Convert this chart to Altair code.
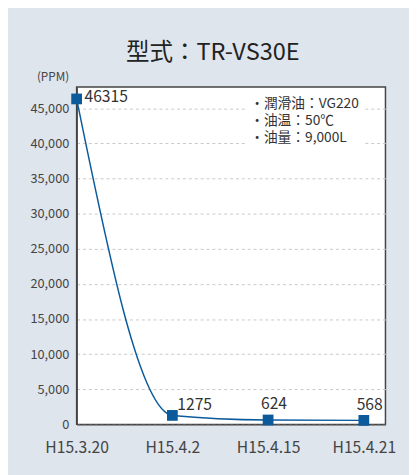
import altair as alt
import pandas as pd

dates = ["H15.3.20", "H15.4.2", "H15.4.15", "H15.4.21"]
ppm = [46315, 1275, 624, 568]
info_lines = ["・潤滑油：VG220", "・油温：50℃", "・油量：9,000L"]

FONT = "Noto Sans CJK JP"
BLUE = "#0b5a9b"

df = pd.DataFrame({"idx": list(range(len(dates))), "date": dates, "ppm": ppm,
                   "label": [str(v) for v in ppm]})

label_expr = "[" + ",".join("'" + d + "'" for d in dates) + "][datum.value]"

x = alt.X("idx:Q", scale=alt.Scale(domain=[0, 3.226], nice=False, zero=False),
          axis=alt.Axis(values=[0, 1, 2, 3], labelExpr=label_expr, grid=False,
                        ticks=False, labelFontSize=16, labelPadding=16,
                        labelColor="#444", labelFont=FONT, domainColor="#444",
                        domainWidth=1.5, title=None, labelFlush=False))
y = alt.Y("ppm:Q", scale=alt.Scale(domain=[0, 48000], nice=False),
          axis=alt.Axis(values=list(range(0, 50000, 5000)),
                        labelExpr="format(datum.value, ',.0f')",
                        gridDash=[3, 3], gridColor="#c8c8c8", ticks=False,
                        labelFontSize=13, labelColor="#444", labelFont=FONT,
                        labelPadding=8, domainColor="#444", domainWidth=1.5,
                        title="(PPM)", titleAngle=0, titleX=-8, titleY=-11,
                        titleAlign="right", titleBaseline="middle",
                        titleFontSize=12, titleFontWeight="normal",
                        titleColor="#444", titleFont=FONT))

base = alt.Chart(df)
line = base.mark_line(interpolate="monotone", color=BLUE, strokeWidth=1.5).encode(x=x, y=y)
pts = base.mark_square(size=120, color=BLUE, opacity=1).encode(x=x, y=y)

lbl_first = base.transform_filter("datum.idx == 0").mark_text(
    align="left", baseline="middle", dx=8, dy=-2, fontSize=16, font=FONT, color="#333"
).encode(x=x, y=y, text="label:N")
lbl_second = base.transform_filter("datum.idx == 1").mark_text(
    align="left", baseline="bottom", dx=5, dy=-3, fontSize=16, font=FONT, color="#333"
).encode(x=x, y=y, text="label:N")
lbl_rest = base.transform_filter("datum.idx >= 2").mark_text(
    align="center", baseline="bottom", dx=6, dy=-8, fontSize=16, font=FONT, color="#333"
).encode(x=x, y=y, text="label:N")

box = base.transform_filter("datum.idx == 0").mark_rect(color="white").encode(
    x=alt.value(172), x2=alt.value(294), y=alt.value(13), y2=alt.value(63))
info = base.transform_filter("datum.idx == 0").mark_text(
    align="left", baseline="top", fontSize=14, font=FONT, color="#333",
    text=info_lines, lineHeight=17.5
).encode(x=alt.value(177), y=alt.value(10))

chart = alt.layer(line, box, info, pts, lbl_first, lbl_second, lbl_rest).properties(
    width=315, height=344,
    title=alt.TitleParams("型式：TR-VS30E", fontSize=24, font=FONT, fontWeight="normal",
                          color="#222", anchor="middle", frame="bounds", offset=6),
    padding={"left": 70, "top": 76, "right": 24, "bottom": 49},
    autosize=alt.AutoSizeParams(type="none"),
    background="#dee5ed",
).configure_view(stroke="#444", strokeWidth=1.5, fill="white")

chart.save("out.html", embed_options={"renderer": "svg", "actions": False})
